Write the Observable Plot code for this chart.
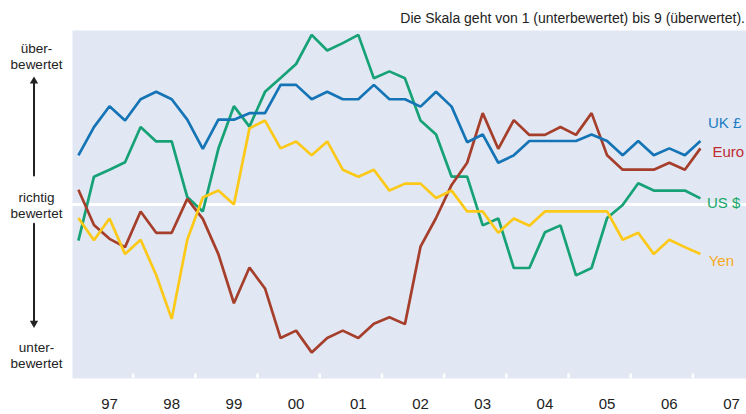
<!DOCTYPE html>
<html><head><meta charset="utf-8">
<script src="https://cdn.jsdelivr.net/npm/d3@7"></script>
<script src="https://cdn.jsdelivr.net/npm/@observablehq/plot@0.6"></script>
<style>
html,body{margin:0;padding:0;background:#fff;}
#chart{width:746px;height:414px;font-family:"Liberation Sans",Arial,sans-serif;}
#sub{height:30px;box-sizing:border-box;padding-top:10px;padding-right:1px;text-align:right;font-size:14px;line-height:16px;color:#222;}
#chart svg{display:block;}
</style></head><body>
<div id="chart"><div id="sub">Die Skala geht von 1 (unterbewertet) bis 9 (überwertet).</div></div>
<script>
const quarters = [
  "1997-Q1","1997-Q2","1997-Q3","1997-Q4","1998-Q1","1998-Q2","1998-Q3","1998-Q4",
  "1999-Q1","1999-Q2","1999-Q3","1999-Q4","2000-Q1","2000-Q2","2000-Q3","2000-Q4",
  "2001-Q1","2001-Q2","2001-Q3","2001-Q4","2002-Q1","2002-Q2","2002-Q3","2002-Q4",
  "2003-Q1","2003-Q2","2003-Q3","2003-Q4","2004-Q1","2004-Q2","2004-Q3","2004-Q4",
  "2005-Q1","2005-Q2","2005-Q3","2005-Q4","2006-Q1","2006-Q2","2006-Q3","2006-Q4",
  "2007-Q1"
];
const seriesNames = ["UK £", "Euro", "US $", "Yen"];
const ukPound = [6.13,6.78,7.26,6.93,7.42,7.59,7.42,6.95,6.28,6.95,6.95,7.10,7.10,7.75,7.75,7.42,7.59,7.42,7.42,7.75,7.42,7.42,7.25,7.59,7.25,6.43,6.61,5.96,6.13,6.46,6.46,6.46,6.46,6.61,6.46,6.13,6.46,6.13,6.29,6.13,6.46];
const euro = [5.34,4.53,4.21,4.02,4.84,4.35,4.35,5.13,4.67,3.86,2.73,3.55,3.07,1.93,2.10,1.60,1.93,2.10,1.93,2.26,2.41,2.25,4.03,4.69,5.45,5.96,7.10,6.28,6.94,6.60,6.60,6.78,6.60,7.10,6.13,5.80,5.80,5.80,5.96,5.80,6.29];
const usDollar = [4.17,5.64,5.80,5.97,6.78,6.45,6.45,5.17,4.84,6.28,7.26,6.79,7.59,7.91,8.23,8.90,8.54,8.71,8.90,7.90,8.06,7.90,6.93,6.61,5.64,5.64,4.52,4.68,3.54,3.54,4.36,4.52,3.37,3.54,4.69,4.99,5.49,5.32,5.32,5.32,5.14];
const yen = [4.69,4.18,4.68,3.86,4.19,3.38,2.37,4.19,5.16,5.32,5.00,6.75,6.93,6.29,6.45,6.13,6.45,5.80,5.64,5.80,5.32,5.48,5.48,5.15,5.32,4.84,4.84,4.35,4.68,4.51,4.84,4.84,4.84,4.84,4.84,4.19,4.35,3.86,4.19,4.02,3.86];
const yearLabels = ["97","98","99","00","01","02","03","04","05","06","07"];
const yearPositions = [1997.5,1998.5,1999.5,2000.5,2001.5,2002.5,2003.5,2004.5,2005.5,2006.5,2007.5];
const tickPositions = [1997.88,1998.88,1999.88,2000.88,2001.88,2002.88,2003.88,2004.88,2005.88,2006.88];
const levelLabels = ["über-\nbewertet", "richtig\nbewertet", "unter-\nbewertet"];
const levelValues = [9, 5, 1];

const lineColors = ["#1474b5", "#a63e2c", "#16a276", "#fcc919"];
const labelColors = ["#1a7cc4", "#c22b30", "#14a866", "#f6a91f"];
const labelOffsets = [[7.6, -17.7], [12, 4], [6.6, 4.6], [8.3, 6.7]];
const levelOffsets = [25, 0, -23.5];

const valuesBySeries = [ukPound, euro, usDollar, yen];
const toTime = q => +q.slice(0, 4) + (+q.slice(6) - 1) * 0.25;
const rows = [];
seriesNames.forEach((s, k) => valuesBySeries[k].forEach((v, i) => rows.push({series: s, t: toTime(quarters[i]), value: v})));
const lastRows = seriesNames.map(s => rows.filter(r => r.series === s).at(-1));
const xDomain = [1996.905, 2007.741];
const font = '"Liberation Sans", Arial, sans-serif';

const drawOrder = [2, 1, 0, 3];
const marks = [
  Plot.frame({fill: "#e1e8f3", stroke: "none"}),
  Plot.ruleY([5], {stroke: "white", strokeWidth: 3}),
  Plot.ruleX(tickPositions, {x: d => d, stroke: "white", strokeWidth: 2.5, insetTop: 343.5}),
  ...drawOrder.map(k => Plot.line(rows.filter(r => r.series === seriesNames[k]), {
    x: "t", y: "value", stroke: lineColors[k], strokeWidth: 2.7, strokeLinejoin: "miter", strokeLinecap: "butt"
  })),
  ...seriesNames.map((s, k) => Plot.text([lastRows[k]], {
    x: "t", y: "value", text: () => s, textAnchor: "start", lineAnchor: "middle",
    dx: labelOffsets[k][0], dy: labelOffsets[k][1], fill: labelColors[k], fontSize: 15
  })),
  Plot.text(yearLabels, {x: (d, i) => yearPositions[i], text: d => d, frameAnchor: "bottom", dy: 26,
    lineAnchor: "middle", fontSize: 15, fill: "#222"}),
  ...levelLabels.map((l, k) => Plot.text([l], {text: d => d, frameAnchor: "left", y: levelValues[k],
    dx: -36, dy: levelOffsets[k], textAnchor: "middle", lineAnchor: "middle", lineHeight: 1.19,
    fontSize: 13.5, fill: "#222"})),
  Plot.arrow([0], {x1: xDomain[0], x2: xDomain[0], y1: 5, y2: 9, dx: -38.5,
    insetStart: 29, insetEnd: 50, headLength: 0, strokeWidth: 2, stroke: "#222"}),
  Plot.arrow([0], {x1: xDomain[0], x2: xDomain[0], y1: 5, y2: 1, dx: -38.5,
    insetStart: 19.3, insetEnd: 54.5, headLength: 0, strokeWidth: 2, stroke: "#222"}),
  Plot.dot([0], {x: xDomain[0], y: 9, dx: -38.5, dy: 50.7, symbol: "triangle", r: 3.1, fill: "#222", stroke: "none"}),
  Plot.dot([0], {x: xDomain[0], y: 1, dx: -38.5, dy: -55.4, symbol: "triangle", r: 3.1, rotate: 180, fill: "#222", stroke: "none"})
];

const chart = Plot.plot({
  width: 746, height: 384,
  marginLeft: 72, marginRight: 0, marginTop: 0, marginBottom: 36,
  x: {domain: xDomain, axis: null},
  y: {domain: [1, 9], axis: null},
  style: {fontFamily: font, background: "transparent", overflow: "visible", color: "#222"},
  marks
});
document.getElementById("chart").appendChild(chart);
</script>
</body></html>
